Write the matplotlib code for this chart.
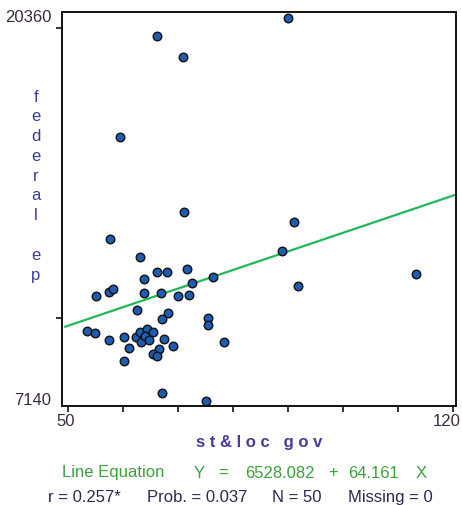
import numpy as np
import matplotlib
matplotlib.use("Agg")
import matplotlib.pyplot as plt

plt.rcParams['font.family'] = ['Liberation Sans', 'DejaVu Sans']

# values
st_loc_gov = [66.2, 70.8, 59.5, 71.1, 57.6, 63.1, 66.1, 67.9, 71.6, 63.8,
              72.6, 76.4, 55.1, 57.5, 58.1, 63.8, 66.9, 69.9, 71.9, 62.5,
              68.1, 67.0, 75.5, 75.5, 53.5, 54.9, 57.5, 60.1, 61.0, 60.1,
              62.4, 63.1, 63.3, 64.4, 65.5, 67.5, 69.1, 66.5, 65.5, 66.2,
              78.3, 67.0, 75.0, 89.9, 91.0, 88.9, 91.8, 113.3, 64.0, 64.8]
federal = [19739, 18994, 16256, 13669, 12727, 12117, 11600, 11600, 11693, 11348,
           11220, 11406, 10772, 10889, 11013, 10875, 10855, 10772, 10796, 10279,
           10175, 9968, 10003, 9761, 9544, 9475, 9233, 9347, 8978, 8530,
           9347, 9509, 9164, 9623, 9509, 9268, 9037, 8933, 8761, 8682,
           9185, 7416, 7140, 20360, 13324, 12314, 11117, 11520, 9371, 9254]

intercept = 6528.082
slope = 64.161
x_ticks = [50, 60, 70, 80, 90, 100, 110, 120]
y_ticks = [10000, 20000]
y_min, y_max = 7140, 20360

W, H = 462, 506
fig = plt.figure(figsize=(W / 100, H / 100), dpi=100)
ax = fig.add_axes([62 / W, 1 - 407 / H, (456 - 62) / W, (407 - 13) / H])

def ftext(x, y, s, **kw):
    fig.text(x / W, 1 - y / H, s, **kw)

ax.set_xlim(48.9, 120.5)
ax.set_ylim(6968, 20557)

xs = np.array([49.5, 120.4])
ax.plot(xs, intercept + slope * xs, color='#1fb85a', lw=1.6, zorder=2)
ax.scatter(st_loc_gov, federal, s=38, color='#1d5cb0', edgecolor='#111111',
           linewidth=1.0, zorder=3)

for sp in ax.spines.values():
    sp.set_linewidth(1.4)
    sp.set_color('#111111')

ax.set_xticks(x_ticks)
ax.set_xticklabels([])
ax.set_yticks(y_ticks)
ax.set_yticklabels([])
ax.tick_params(direction='out', length=4, width=1.2, color='#111111')

fs = 12
tick_col = '#3a2a40'
ftext(52, 17, str(y_max), fontsize=fs, color=tick_col, va='center', ha='right')
ftext(51, 401, str(y_min), fontsize=fs, color=tick_col, va='center', ha='right')
ftext(66, 422, "50", fontsize=fs, color=tick_col, va='center', ha='center')
ftext(461, 422, "120", fontsize=fs, color=tick_col, va='center', ha='right')

# stacked y label
ylab = "federal ep"
for i, ch in enumerate(ylab):
    if ch != ' ':
        ftext(36, 97 + i * 19.8, ch, fontsize=fs, color='#3b3b9e',
              va='center', ha='center')

ftext(259, 443, "s t & l o c   g o v", fontsize=fs, color='#4a3a9a',
      va='center', ha='center', fontweight='bold')

green = '#3aa23a'
ftext(62, 473, "Line Equation", fontsize=fs, color=green, va='center')
ftext(199, 473, "Y", fontsize=fs, color=green, va='center', ha='center')
ftext(223, 473, "=", fontsize=fs, color=green, va='center', ha='center')
ftext(245, 473, f"{intercept:.3f}", fontsize=fs, color=green, va='center')
ftext(333, 473, "+", fontsize=fs, color=green, va='center', ha='center')
ftext(348, 473, f"{slope:.3f}", fontsize=fs, color=green, va='center')
ftext(421, 473, "X", fontsize=fs, color=green, va='center', ha='center')

dark = '#2a2a50'
ftext(48, 498, "r = 0.257*", fontsize=fs, color=dark, va='center')
ftext(147, 498, "Prob. = 0.037", fontsize=fs, color=dark, va='center')
ftext(272, 498, "N = 50", fontsize=fs, color=dark, va='center')
ftext(348, 498, "Missing = 0", fontsize=fs, color=dark, va='center')

fig.savefig("out.png", dpi=100)
